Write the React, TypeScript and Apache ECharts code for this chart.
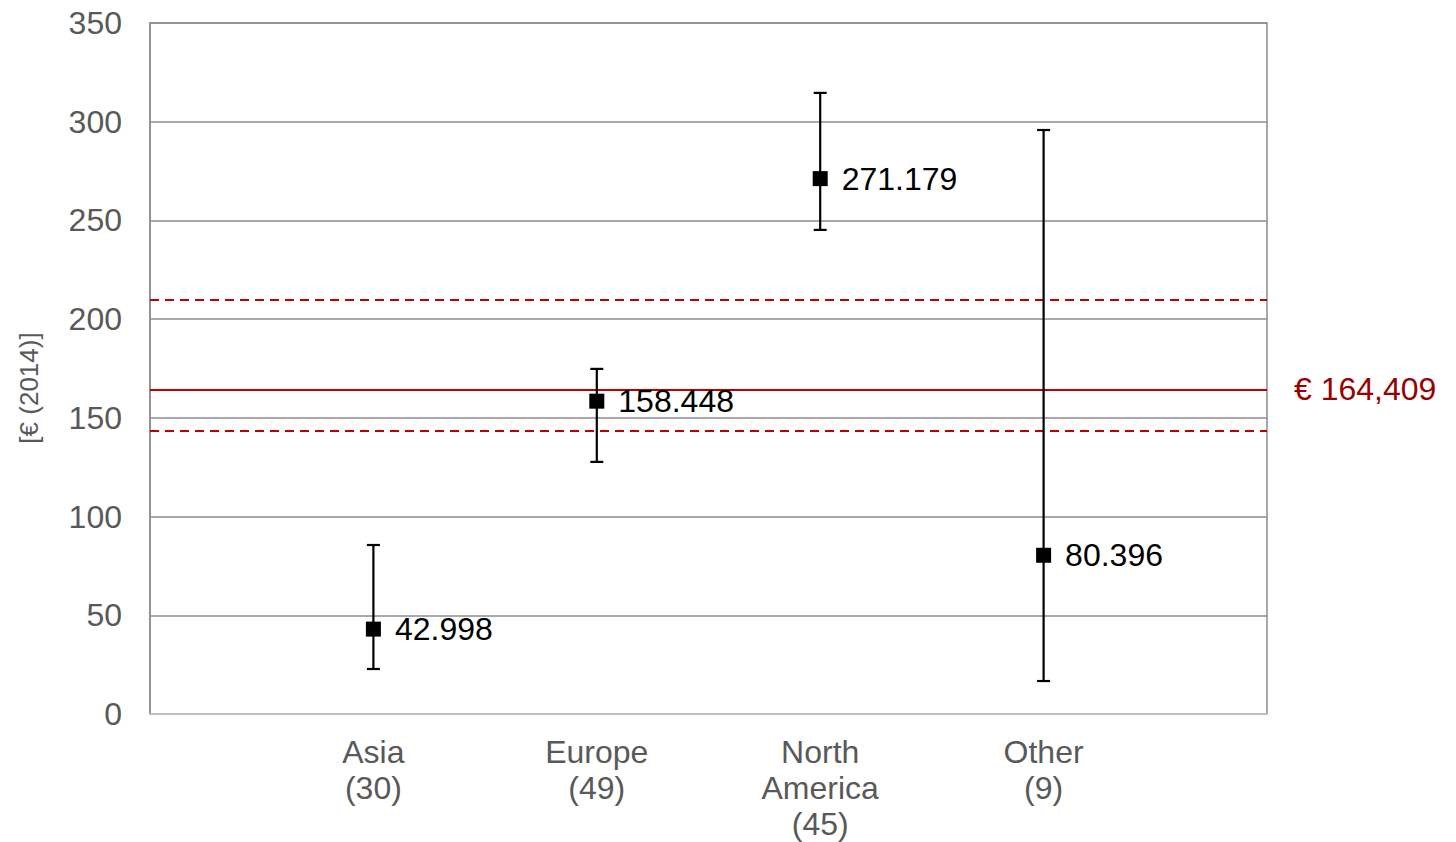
import React, { useEffect, useRef } from "react";
import * as echarts from "echarts";

const categories = ["", "Asia\n(30)", "Europe\n(49)", "North\nAmerica\n(45)", "Other\n(9)", ""];
const means = [42.998, 158.448, 271.179, 80.396];
const meanLabels = ["42.998", "158.448", "271.179", "80.396"];
const lows = [22.8, 127.7, 245.2, 16.7];
const highs = [85.6, 174.8, 314.6, 295.8];
const overallMean = 164.409;
const overallLabel = "€ 164,409";
const bandLow = 143.4;
const bandHigh = 209.7;
const yTicks = { min: 0, max: 350, interval: 50 };
const yName = "[€ (2014)]";

export default function App() {
  const ref = useRef<HTMLDivElement>(null);
  useEffect(() => {
    document.body.style.margin = "0";
    const chart = echarts.init(ref.current!, null, { renderer: "svg" });
    const font = "'Liberation Sans', Arial, sans-serif";
    chart.setOption({
      animation: false,
      textStyle: { fontFamily: font },
      grid: {
        left: 150,
        top: 23,
        right: 189,
        bottom: 128,
        show: true,
        borderColor: "#8c8c8c",
        borderWidth: 1.5,
        containLabel: false,
        outerBoundsMode: "none",
      },
      graphic: [
        {
          type: "text",
          x: 29,
          y: 388,
          rotation: Math.PI / 2,
          style: {
            text: yName,
            fill: "#595959",
            fontSize: 26,
            fontFamily: font,
            align: "center",
            verticalAlign: "middle",
          },
        },
      ],
      xAxis: {
        type: "category",
        data: categories,
        boundaryGap: false,
        axisLine: { show: true, lineStyle: { color: "#bfbfbf", width: 2 } },
        axisTick: { show: false },
        splitLine: { show: false },
        axisLabel: {
          interval: 0,
          color: "#595959",
          fontSize: 32,
          lineHeight: 36,
          margin: 20,
          fontFamily: font,
        },
      },
      yAxis: {
        type: "value",
        min: yTicks.min,
        max: yTicks.max,
        interval: yTicks.interval,
        axisLine: { show: true, lineStyle: { color: "#8c8c8c", width: 1.5 } },
        axisTick: { show: false },
        splitLine: { show: true, lineStyle: { color: "#8c8c8c", width: 1.5 } },
        axisLabel: { color: "#595959", fontSize: 32, margin: 28, fontFamily: font },
      },
      series: [
        {
          type: "custom",
          name: "range",
          data: lows.map((l, i) => [i + 1, l, highs[i]]),
          renderItem: (params: any, api: any) => {
            const x = api.value(0);
            const lo = api.coord([x, api.value(1)]);
            const hi = api.coord([x, api.value(2)]);
            const cap = 6.5;
            const style = { stroke: "#000", lineWidth: 2.2 };
            return {
              type: "group",
              children: [
                { type: "line", shape: { x1: lo[0], y1: lo[1], x2: hi[0], y2: hi[1] }, style },
                { type: "line", shape: { x1: lo[0] - cap, y1: lo[1], x2: lo[0] + cap, y2: lo[1] }, style },
                { type: "line", shape: { x1: hi[0] - cap, y1: hi[1], x2: hi[0] + cap, y2: hi[1] }, style },
              ],
            };
          },
          z: 3,
        },
        {
          type: "scatter",
          name: "mean",
          symbol: "rect",
          symbolSize: 15,
          itemStyle: { color: "#000", opacity: 1 },
          data: means.map((m, i) => [i + 1, m]),
          label: {
            show: true,
            position: "right",
            distance: 14,
            color: "#000",
            fontSize: 32,
            fontFamily: font,
            formatter: (p: any) => meanLabels[p.dataIndex],
          },
          z: 4,
          markLine: {
            silent: true,
            symbol: "none",
            z: 2,
            data: [
              {
                yAxis: overallMean,
                lineStyle: { color: "#c00000", width: 2, type: "solid" },
                label: {
                  show: true,
                  position: "end",
                  formatter: overallLabel,
                  color: "#990000",
                  fontSize: 32,
                  distance: 27,
                  fontFamily: font,
                },
              },
              {
                yAxis: bandHigh,
                lineStyle: { color: "#c00000", width: 2, type: [9, 6] },
                label: { show: false },
              },
              {
                yAxis: bandLow,
                lineStyle: { color: "#c00000", width: 2, type: [9, 6] },
                label: { show: false },
              },
            ],
          },
        },
      ],
    });
    return () => chart.dispose();
  }, []);
  return <div ref={ref} style={{ width: 1456, height: 842 }} />;
}
